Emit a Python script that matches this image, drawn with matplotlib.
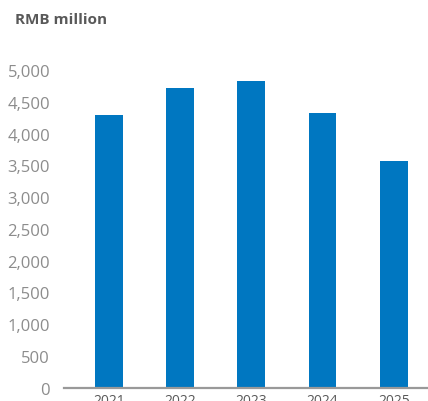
import matplotlib
matplotlib.use("Agg")
import matplotlib.pyplot as plt

years = ["2021", "2022", "2023", "2024", "2025"]
values = [4290, 4716, 4826, 4322, 3565]
y_ticks = [0, 500, 1000, 1500, 2000, 2500, 3000, 3500, 4000, 4500, 5000]

plt.rcParams["font.family"] = ["Open Sans", "DejaVu Sans"]

fig = plt.figure(figsize=(4.28, 4.02), dpi=100)
ax = fig.add_axes([64 / 428, (402 - 388.7) / 402, 1 - 64 / 428, (388.7 - 71) / 402])

x = range(len(years))
ax.bar(x, values, width=0.39, color="#0077c1", zorder=2)

ax.set_xlim(-0.63, 4.48)
ax.set_ylim(0, 5000)
ax.set_yticks(y_ticks)
ax.set_yticklabels([f"{v:,}" for v in y_ticks], fontsize=12, color="#8c8c8c")
ax.set_xticks(list(x))
ax.set_xticklabels(years, fontsize=10, color="#595959")
ax.tick_params(axis="both", length=0)
ax.tick_params(axis="y", pad=10)
ax.tick_params(axis="x", pad=4)

for side in ["top", "right", "left"]:
    ax.spines[side].set_visible(False)
ax.spines["bottom"].set_color("#999999")
ax.spines["bottom"].set_linewidth(1.6)
ax.spines["bottom"].set_zorder(3)

fig.text(15 / 428, 1 - 20 / 402, "RMB million", fontsize=11, fontweight="bold",
         color="#595959", ha="left", va="center")

fig.savefig("out.png", dpi=100)
